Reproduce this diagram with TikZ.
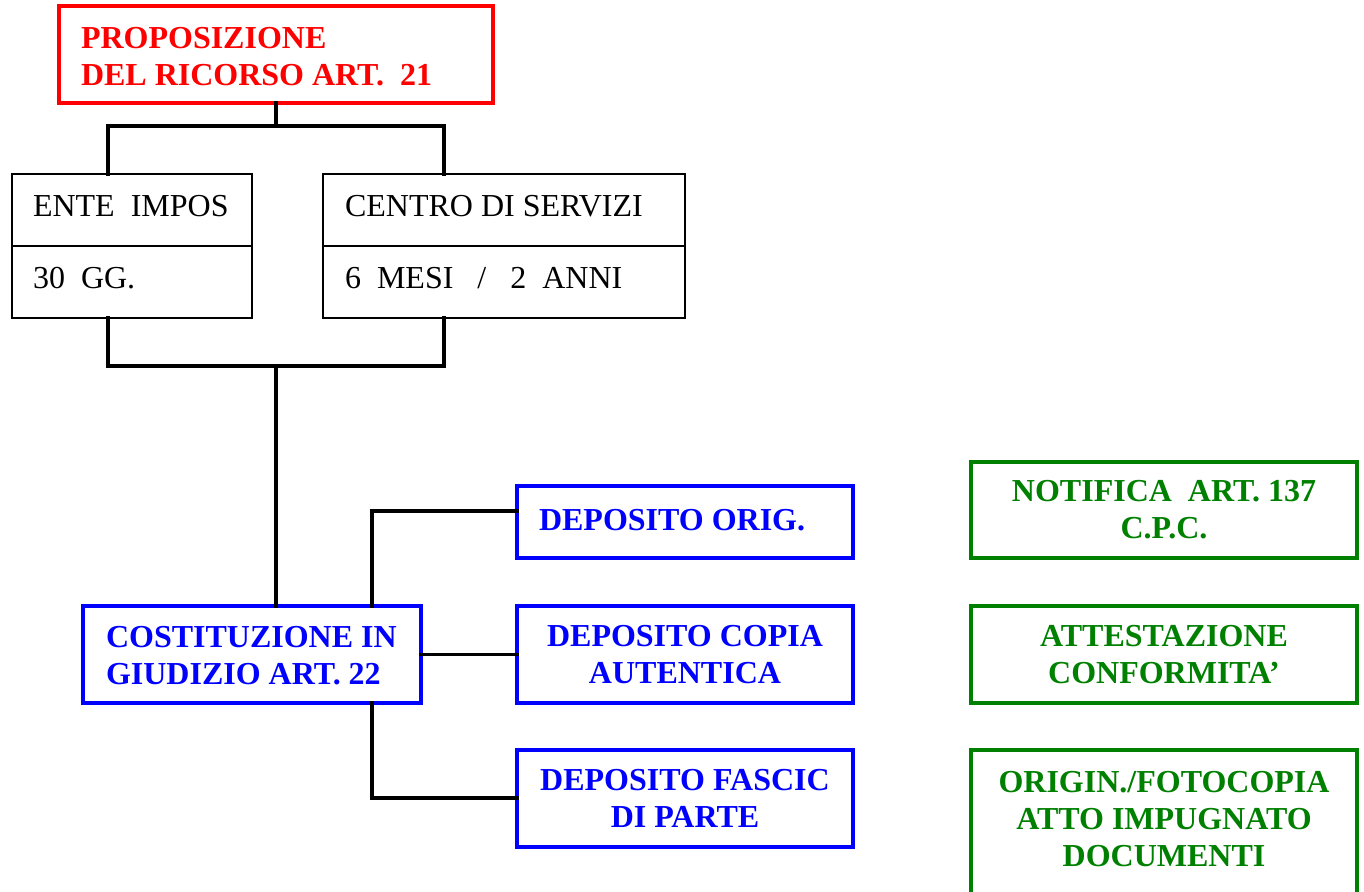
\documentclass[tikz,border=0pt]{standalone}
\usepackage{fontspec}
\setmainfont{Liberation Serif}
\definecolor{propred}{RGB}{255,0,0}
\definecolor{depblue}{RGB}{0,0,255}
\definecolor{notegreen}{RGB}{0,128,0}
\tikzset{
  box/.style={rectangle, draw, inner sep=0pt, outer sep=0pt, anchor=north west, line width=2.6pt},
  redbox/.style={box, draw=propred, line width=3.2pt},
  bluebox/.style={box, draw=depblue, line width=3.6pt, text=depblue,
    font=\fontsize{32}{37}\selectfont\bfseries, align=center},
  greenbox/.style={box, draw=notegreen, line width=3.6pt, text=notegreen,
    font=\fontsize{32}{37}\selectfont\bfseries, align=center},
  lbl/.style={inner sep=0pt, outer sep=0pt, font=\fontsize{32}{37}\selectfont},
  link/.style={line width=3.2pt, line join=miter, line cap=rect},
}
\begin{document}
\begin{tikzpicture}[x=1pt,y=-1pt]
\clip (0,0) rectangle (1364,891);
\fill[white] (0,0) rectangle (1364,891);

% top box
\node[redbox, minimum width=434pt, minimum height=97pt] (prop) at (59,6) {};
\node[lbl, anchor=north west, align=left, text=propred, font=\fontsize{32}{37}\selectfont\bfseries]
  (propT) at (81,27) {PROPOSIZIONE\\DEL RICORSO ART.\ \ 21};

% the two offices with their terms
\node[box, minimum width=240pt, minimum height=72pt] (enteTop) at (12,174) {};
\node[box, minimum width=240pt, minimum height=72pt] (enteBot) at (12,246) {};
\node[box, minimum width=362pt, minimum height=72pt] (centroTop) at (323,174) {};
\node[box, minimum width=362pt, minimum height=72pt] (centroBot) at (323,246) {};
\node[lbl, anchor=base west] (enteT) at (33,216) {ENTE\ \ IMPOS};
\node[lbl, anchor=base west] (enteG) at (33,288) {30\ \ GG.};
\node[lbl, anchor=base west] (centroT) at (345,216) {CENTRO DI SERVIZI};
\node[lbl, anchor=base west] (centroG) at (345,288) {6\ \ MESI\ \ \ /\ \ \ 2\ \ ANNI};

% constitution in court and deposits
\node[bluebox, minimum width=338pt, minimum height=97pt] (cost) at (83,606) {};
\node[lbl, anchor=north west, align=left, text=depblue, font=\fontsize{32}{37}\selectfont\bfseries]
  (costT) at (106,626) {COSTITUZIONE IN\\GIUDIZIO ART. 22};
\node[bluebox, minimum width=336pt, minimum height=72pt] (orig) at (517,486) {};
\node[lbl, anchor=base west, text=depblue, font=\fontsize{32}{37}\selectfont\bfseries]
  (origT) at (539,530) {DEPOSITO ORIG.};
\node[bluebox, minimum width=336pt, minimum height=97pt] (copia) at (517,606)
  {DEPOSITO COPIA\\AUTENTICA};
\node[bluebox, minimum width=336pt, minimum height=97pt] (fascic) at (517,750)
  {DEPOSITO FASCIC\\DI PARTE};

% notes on the right
\node[greenbox, minimum width=386pt, minimum height=96pt] (notif) at (971,462)
  {NOTIFICA\ \ ART. 137\\C.P.C.};
\node[greenbox, minimum width=386pt, minimum height=97pt] (attest) at (971,606)
  {ATTESTAZIONE\\CONFORMITA’};
\node[greenbox, minimum width=386pt, minimum height=160pt] (docs) at (971,750) {};
\node[lbl, anchor=north, align=center, text=notegreen, font=\fontsize{32}{37}\selectfont\bfseries]
  (docsT) at ([yshift=-21pt]docs.north) {ORIGIN./FOTOCOPIA\\ATTO IMPUGNATO\\DOCUMENTI};

% connector junctions
\coordinate (jt) at (276,126);
\coordinate (jtl) at (108,126);
\coordinate (jtr) at (444,126);
\coordinate (jb) at (276,366);
\coordinate (jbl) at (108,366);
\coordinate (jbr) at (444,366);
\coordinate (ko) at (372,511);
\coordinate (kf) at (372,798);

\draw[link] (prop.south) -- (jt);
\draw[link] (jtl |- enteTop.north) -- (jtl) -- (jtr) -- (jtr |- centroTop.north);
\draw[link] (jbl |- enteBot.south) -- (jbl) -- (jbr) -- (jbr |- centroBot.south);
\draw[link] (jb) -- (jb |- cost.north);
\draw[link] (ko |- cost.north) -- (ko) -- (ko -| orig.west);
\draw[link] (cost.east) -- (copia.west);
\draw[link] (kf |- cost.south) -- (kf) -- (kf -| fascic.west);
\end{tikzpicture}
\end{document}
